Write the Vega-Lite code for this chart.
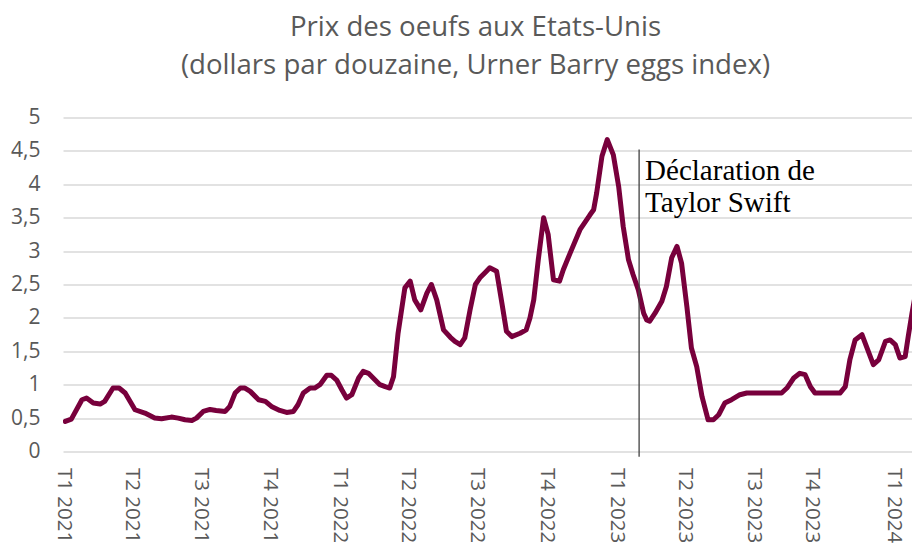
{
  "$schema": "https://vega.github.io/schema/vega-lite/v6.json",
  "width": 849,
  "height": 334,
  "autosize": {"type": "none"},
  "padding": {"left": 63, "top": 117.5, "right": 0, "bottom": 93.5},
  "background": "white",
  "title": {
    "text": ["Prix des oeufs aux Etats-Unis", "(dollars par douzaine, Urner Barry eggs index)"],
    "font": "Open Sans",
    "fontSize": 27.6,
    "fontWeight": "normal",
    "color": "#595959",
    "lineHeight": 38,
    "anchor": "middle",
    "baseline": "alphabetic",
    "dx": -12,
    "offset": 5
  },
  "config": {"view": {"stroke": null}, "font": "Open Sans"},
  "layer": [
    {
      "data": {"values": [
        {"date": "2021-01-04", "prix": 0.45}, {"date": "2021-01-12", "prix": 0.485}, {"date": "2021-01-26", "prix": 0.775},
        {"date": "2021-02-01", "prix": 0.8}, {"date": "2021-02-10", "prix": 0.725}, {"date": "2021-02-19", "prix": 0.71},
        {"date": "2021-02-25", "prix": 0.75}, {"date": "2021-03-08", "prix": 0.95}, {"date": "2021-03-16", "prix": 0.95},
        {"date": "2021-03-24", "prix": 0.875}, {"date": "2021-04-06", "prix": 0.625}, {"date": "2021-04-19", "prix": 0.575},
        {"date": "2021-05-02", "prix": 0.5}, {"date": "2021-05-11", "prix": 0.49}, {"date": "2021-05-24", "prix": 0.515},
        {"date": "2021-06-02", "prix": 0.5}, {"date": "2021-06-11", "prix": 0.475}, {"date": "2021-06-20", "prix": 0.465},
        {"date": "2021-06-26", "prix": 0.5}, {"date": "2021-07-05", "prix": 0.6}, {"date": "2021-07-14", "prix": 0.63},
        {"date": "2021-07-22", "prix": 0.615}, {"date": "2021-08-03", "prix": 0.6}, {"date": "2021-08-09", "prix": 0.675},
        {"date": "2021-08-16", "prix": 0.875}, {"date": "2021-08-23", "prix": 0.95}, {"date": "2021-08-29", "prix": 0.95},
        {"date": "2021-09-05", "prix": 0.9}, {"date": "2021-09-16", "prix": 0.775}, {"date": "2021-09-25", "prix": 0.75},
        {"date": "2021-10-03", "prix": 0.675}, {"date": "2021-10-14", "prix": 0.615}, {"date": "2021-10-23", "prix": 0.585},
        {"date": "2021-11-01", "prix": 0.6}, {"date": "2021-11-07", "prix": 0.7}, {"date": "2021-11-14", "prix": 0.875},
        {"date": "2021-11-23", "prix": 0.95}, {"date": "2021-11-29", "prix": 0.95}, {"date": "2021-12-06", "prix": 1.0},
        {"date": "2021-12-15", "prix": 1.14}, {"date": "2021-12-21", "prix": 1.14}, {"date": "2021-12-28", "prix": 1.07},
        {"date": "2022-01-04", "prix": 0.92}, {"date": "2022-01-10", "prix": 0.8}, {"date": "2022-01-17", "prix": 0.85},
        {"date": "2022-01-26", "prix": 1.1}, {"date": "2022-02-01", "prix": 1.2}, {"date": "2022-02-08", "prix": 1.17},
        {"date": "2022-02-23", "prix": 1.0}, {"date": "2022-03-02", "prix": 0.97}, {"date": "2022-03-08", "prix": 0.95},
        {"date": "2022-03-13", "prix": 1.12}, {"date": "2022-03-19", "prix": 1.77}, {"date": "2022-03-28", "prix": 2.45},
        {"date": "2022-04-04", "prix": 2.55}, {"date": "2022-04-10", "prix": 2.27}, {"date": "2022-04-18", "prix": 2.12},
        {"date": "2022-04-26", "prix": 2.37}, {"date": "2022-05-02", "prix": 2.5}, {"date": "2022-05-09", "prix": 2.27},
        {"date": "2022-05-18", "prix": 1.82}, {"date": "2022-05-27", "prix": 1.71}, {"date": "2022-06-02", "prix": 1.65},
        {"date": "2022-06-09", "prix": 1.6}, {"date": "2022-06-15", "prix": 1.7}, {"date": "2022-06-22", "prix": 2.12},
        {"date": "2022-06-29", "prix": 2.5}, {"date": "2022-07-05", "prix": 2.6}, {"date": "2022-07-12", "prix": 2.68},
        {"date": "2022-07-18", "prix": 2.75}, {"date": "2022-07-27", "prix": 2.7}, {"date": "2022-08-03", "prix": 2.22},
        {"date": "2022-08-09", "prix": 1.8}, {"date": "2022-08-16", "prix": 1.72}, {"date": "2022-08-27", "prix": 1.77},
        {"date": "2022-09-04", "prix": 1.82}, {"date": "2022-09-09", "prix": 2.0}, {"date": "2022-09-14", "prix": 2.27},
        {"date": "2022-09-20", "prix": 2.87}, {"date": "2022-09-27", "prix": 3.5}, {"date": "2022-10-03", "prix": 3.25},
        {"date": "2022-10-10", "prix": 2.57}, {"date": "2022-10-18", "prix": 2.55}, {"date": "2022-10-23", "prix": 2.72},
        {"date": "2022-11-01", "prix": 2.97}, {"date": "2022-11-14", "prix": 3.32}, {"date": "2022-11-27", "prix": 3.54},
        {"date": "2022-12-02", "prix": 3.62}, {"date": "2022-12-06", "prix": 3.87}, {"date": "2022-12-13", "prix": 4.42},
        {"date": "2022-12-20", "prix": 4.67}, {"date": "2022-12-28", "prix": 4.44}, {"date": "2023-01-04", "prix": 3.97},
        {"date": "2023-01-10", "prix": 3.37}, {"date": "2023-01-17", "prix": 2.87}, {"date": "2023-01-23", "prix": 2.65},
        {"date": "2023-01-30", "prix": 2.42}, {"date": "2023-02-06", "prix": 2.07}, {"date": "2023-02-10", "prix": 1.97},
        {"date": "2023-02-14", "prix": 1.95}, {"date": "2023-02-21", "prix": 2.07}, {"date": "2023-03-02", "prix": 2.25},
        {"date": "2023-03-08", "prix": 2.47}, {"date": "2023-03-15", "prix": 2.9}, {"date": "2023-03-22", "prix": 3.07},
        {"date": "2023-03-28", "prix": 2.82}, {"date": "2023-04-04", "prix": 2.17}, {"date": "2023-04-10", "prix": 1.55},
        {"date": "2023-04-17", "prix": 1.27}, {"date": "2023-04-24", "prix": 0.82}, {"date": "2023-05-02", "prix": 0.475},
        {"date": "2023-05-09", "prix": 0.475}, {"date": "2023-05-16", "prix": 0.55}, {"date": "2023-05-24", "prix": 0.725},
        {"date": "2023-06-02", "prix": 0.775}, {"date": "2023-06-13", "prix": 0.85}, {"date": "2023-06-22", "prix": 0.875},
        {"date": "2023-07-18", "prix": 0.875}, {"date": "2023-08-07", "prix": 0.875}, {"date": "2023-08-14", "prix": 0.95},
        {"date": "2023-08-23", "prix": 1.1}, {"date": "2023-08-31", "prix": 1.17}, {"date": "2023-09-07", "prix": 1.15},
        {"date": "2023-09-14", "prix": 0.97}, {"date": "2023-09-20", "prix": 0.875}, {"date": "2023-10-23", "prix": 0.875},
        {"date": "2023-10-30", "prix": 0.97}, {"date": "2023-11-05", "prix": 1.37}, {"date": "2023-11-12", "prix": 1.67},
        {"date": "2023-11-21", "prix": 1.75}, {"date": "2023-11-27", "prix": 1.57}, {"date": "2023-12-06", "prix": 1.3},
        {"date": "2023-12-13", "prix": 1.37}, {"date": "2023-12-22", "prix": 1.65}, {"date": "2023-12-28", "prix": 1.67},
        {"date": "2024-01-04", "prix": 1.6}, {"date": "2024-01-10", "prix": 1.4}, {"date": "2024-01-17", "prix": 1.42},
        {"date": "2024-01-21", "prix": 1.72}, {"date": "2024-01-26", "prix": 2.07}, {"date": "2024-02-01", "prix": 2.45}
      ]},
      "mark": {"type": "line", "color": "#78003C", "strokeWidth": 5, "strokeJoin": "round", "strokeCap": "round", "clip": true},
      "encoding": {
        "x": {
          "field": "date", "type": "temporal",
          "scale": {"domain": ["2021-01-01", "2024-01-26"]},
          "axis": {
            "title": null,
            "values": [
              {"year": 2021, "month": 1, "date": 1, "utc": true}, {"year": 2021, "month": 4, "date": 1, "utc": true},
              {"year": 2021, "month": 7, "date": 1, "utc": true}, {"year": 2021, "month": 10, "date": 1, "utc": true},
              {"year": 2022, "month": 1, "date": 1, "utc": true}, {"year": 2022, "month": 4, "date": 1, "utc": true},
              {"year": 2022, "month": 7, "date": 1, "utc": true}, {"year": 2022, "month": 10, "date": 1, "utc": true},
              {"year": 2023, "month": 1, "date": 1, "utc": true}, {"year": 2023, "month": 4, "date": 1, "utc": true},
              {"year": 2023, "month": 7, "date": 1, "utc": true}, {"year": 2023, "month": 9, "date": 16, "utc": true},
              {"year": 2024, "month": 1, "date": 1, "utc": true}
            ],
            "labelExpr": "'T' + (floor(utcmonth(datum.value + 1728000000) / 3) + 1) + ' ' + utcyear(datum.value + 1728000000)",
            "labelAngle": 90,
            "labelAlign": "left",
            "labelBaseline": "middle",
            "labelPadding": 16,
            "labelFont": "Open Sans",
            "labelFontSize": 20.5,
            "labelColor": "#595959",
            "labelOverlap": false,
            "labelBound": false,
            "labelFlush": false,
            "ticks": false,
            "tickSize": 0,
            "domain": false,
            "grid": false
          }
        },
        "y": {
          "field": "prix", "type": "quantitative",
          "scale": {"domain": [0, 5], "nice": false},
          "axis": {
            "title": null,
            "values": [0, 0.5, 1, 1.5, 2, 2.5, 3, 3.5, 4, 4.5, 5],
            "labelExpr": "replace(toString(datum.value), '.', ',')",
            "labelFont": "Open Sans",
            "labelFontSize": 21,
            "labelColor": "#595959",
            "labelPadding": 23,
            "labelOverlap": false,
            "ticks": false,
            "tickSize": 0,
            "domain": false,
            "grid": true,
            "gridColor": "#D9D9D9",
            "gridWidth": 1.5
          }
        }
      }
    },
    {
      "data": {"values": [{"date": "2023-01-31", "label": "Déclaration de\nTaylor Swift"}]},
      "mark": {"type": "rule", "color": "#404040", "strokeWidth": 1.3, "clip": false},
      "encoding": {
        "x": {"field": "date", "type": "temporal"},
        "y": {
          "datum": 4.52, "type": "quantitative",
          "axis": {
            "title": null,
            "values": [0, 0.5, 1, 1.5, 2, 2.5, 3, 3.5, 4, 4.5, 5],
            "labelExpr": "replace(toString(datum.value), '.', ',')",
            "labelFont": "Open Sans",
            "labelFontSize": 21,
            "labelColor": "#595959",
            "labelPadding": 23,
            "labelOverlap": false,
            "ticks": false,
            "tickSize": 0,
            "domain": false,
            "grid": true,
            "gridColor": "#D9D9D9",
            "gridWidth": 1.5
          }
        },
        "y2": {"datum": -0.08}
      }
    },
    {
      "data": {"values": [{"date": "2023-01-31", "label": "Déclaration de\nTaylor Swift"}]},
      "mark": {"type": "text", "font": "Liberation Serif", "fontSize": 29, "lineHeight": 32, "align": "left", "baseline": "alphabetic", "dx": 6, "lineBreak": "\n", "color": "#000000"},
      "encoding": {
        "x": {"field": "date", "type": "temporal"},
        "y": {
          "datum": 4.07, "type": "quantitative",
          "axis": {
            "title": null,
            "values": [0, 0.5, 1, 1.5, 2, 2.5, 3, 3.5, 4, 4.5, 5],
            "labelExpr": "replace(toString(datum.value), '.', ',')",
            "labelFont": "Open Sans",
            "labelFontSize": 21,
            "labelColor": "#595959",
            "labelPadding": 23,
            "labelOverlap": false,
            "ticks": false,
            "tickSize": 0,
            "domain": false,
            "grid": true,
            "gridColor": "#D9D9D9",
            "gridWidth": 1.5
          }
        },
        "text": {"field": "label"}
      }
    }
  ]
}
